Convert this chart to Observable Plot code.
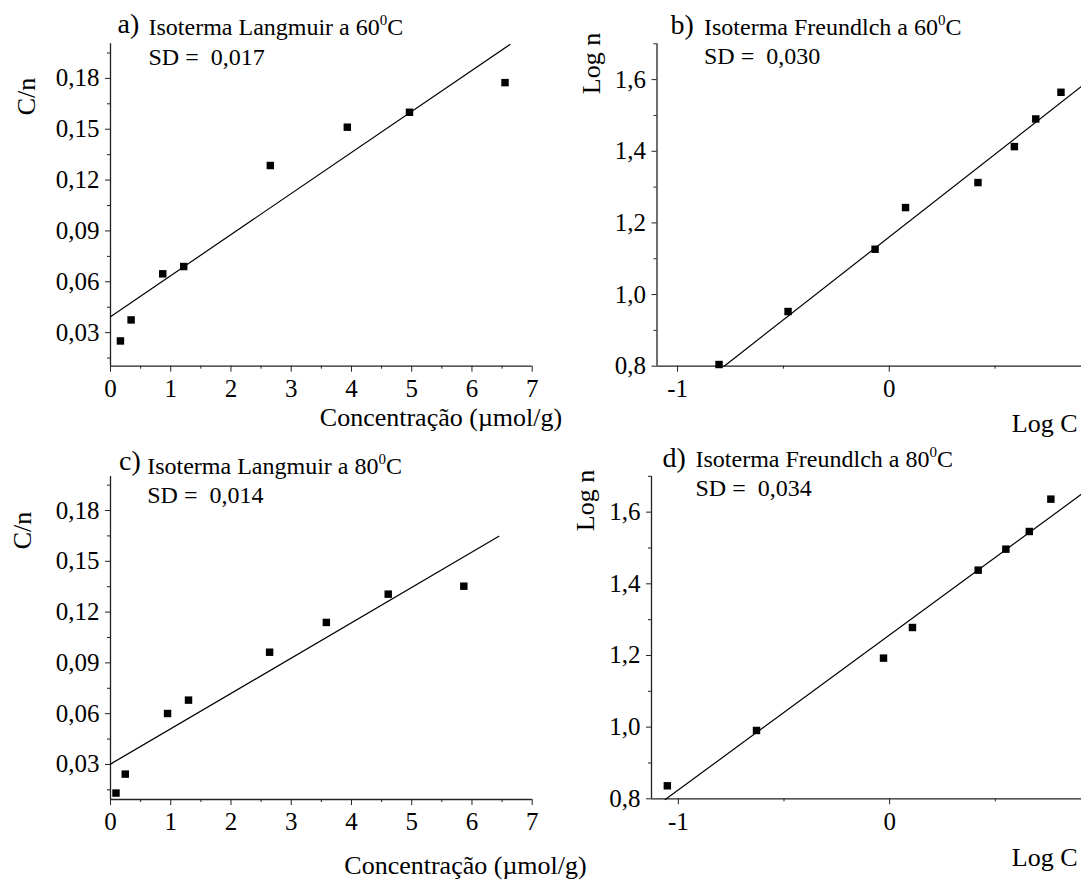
<!DOCTYPE html>
<html>
<head>
<meta charset="utf-8">
<script src="https://cdn.jsdelivr.net/npm/d3@7"></script>
<script src="https://cdn.jsdelivr.net/npm/@observablehq/plot@0.6"></script>
<style>
  html, body { margin: 0; padding: 0; background: white; }
  #wrap { position: relative; width: 1081px; height: 880px; background: white; overflow: hidden; font-family: 'Times New Roman', serif; }
  .panel { position: absolute; }
  .panel svg { overflow: visible; background: none; }
</style>
</head>
<body>
<div id="wrap"></div>
<script>
// ---------- Data ----------
// a) Langmuir 60 °C
const langmuir60C = [0.165, 0.342, 0.867, 1.215, 2.653, 3.931, 4.963, 6.549];
const langmuir60Cn = [0.0251, 0.0375, 0.0647, 0.069, 0.1286, 0.1512, 0.160, 0.1775];
const langmuir60FitX = [0, 6.63];
const langmuir60FitY = [0.0394, 0.200];

// b) Freundlich 60 °C
const freundlich60LogC = [-0.804, -0.478, -0.067, 0.077, 0.419, 0.591, 0.692, 0.811];
const freundlich60LogN = [0.8047, 0.9526, 1.1265, 1.2428, 1.3126, 1.413, 1.4902, 1.5647];
const freundlich60FitX = [-0.780, 0.908];
const freundlich60FitY = [0.800, 1.581];

// c) Langmuir 80 °C
const langmuir80C = [0.091, 0.245, 0.947, 1.295, 2.641, 3.583, 4.610, 5.865];
const langmuir80Cn = [0.0131, 0.0243, 0.0601, 0.068, 0.0963, 0.1139, 0.1306, 0.1353];
const langmuir80FitX = [0, 6.447];
const langmuir80FitY = [0.0302, 0.1648];

// d) Freundlich 80 °C
const freundlich80LogC = [-1.052, -0.630, -0.029, 0.108, 0.419, 0.550, 0.661, 0.763];
const freundlich80LogN = [0.8363, 0.9907, 1.1926, 1.2781, 1.4381, 1.4967, 1.546, 1.6363];
const freundlich80FitX = [-1.062, 0.908];
const freundlich80FitY = [0.798, 1.650];

// ---------- Ticks ----------
const langX = [0, 1, 2, 3, 4, 5, 6, 7];
const langXMinor = [0.5, 1.5, 2.5, 3.5, 4.5, 5.5, 6.5];
const langY = [0.03, 0.06, 0.09, 0.12, 0.15, 0.18];
const langYMinor = [0.015, 0.045, 0.075, 0.105, 0.135, 0.165, 0.195];
const freX = [-1, 0];
const freXMinor = [-0.5, 0.5];
const freY = [0.8, 1.0, 1.2, 1.4, 1.6];
const freYMinor = [0.9, 1.1, 1.3, 1.5, 1.7];

// ---------- Texts ----------
const titles = {
  a: ["a)", "Isoterma Langmuir a 60\u2070C", "SD = \u00A00,017"],
  b: ["b)", "Isoterma Freundlch a 60\u2070C", "SD = \u00A00,030"],
  c: ["c)", "Isoterma Langmuir a 80\u2070C", "SD = \u00A00,014"],
  d: ["d)", "Isoterma Freundlch a 80\u2070C", "SD = \u00A00,034"]
};
const langXLabel = "Concentração (µmol/g)";
const langYLabel = "C/n";
const freXLabel = "Log C";
const freYLabel = "Log n";

const comma = (digits) => (d) => d.toFixed(digits).replace(".", ",");
const FONT = "'Times New Roman', serif";

function zip(xs, ys) { return xs.map((x, i) => ({x, y: ys[i]})); }

function txt(s, o) {
  return Plot.text([s], {
    text: (d) => d,
    frameAnchor: "top-left",
    dx: o.dx, dy: o.dy,
    fontSize: o.size,
    fontFamily: FONT,
    textAnchor: o.anchor || "start",
    lineAnchor: o.line || "bottom",
    rotate: o.rotate || 0,
    fill: "black"
  });
}

// render the degree-like superscript "0" as a raised, smaller serif digit
function superscripts(svg) {
  d3.select(svg).selectAll("text").each(function () {
    const t = this.textContent;
    if (!t.includes("\u2070")) return;
    const [pre, post] = t.split("\u2070");
    const sel = d3.select(this);
    sel.text(null);
    sel.append("tspan").text(pre);
    sel.append("tspan").attr("dy", -10).attr("font-size", 15).text("0");
    sel.append("tspan").attr("dy", 10).text(post);
  });
}

function panel(cfg) {
  const marks = [
    Plot.ruleX([cfg.xDomain[0]], {stroke: "#222", strokeWidth: 1.3}),
    Plot.ruleY([cfg.yDomain[0]], {stroke: "#222", strokeWidth: 1.3}),
    Plot.axisX({ticks: cfg.xMajor, tickSize: 6, tickPadding: 7, tickFormat: cfg.xFmt, label: null, stroke: "#222", fontFamily: FONT, fontSize: 25}),
    Plot.axisX({ticks: cfg.xMinor, tickSize: 3, tickFormat: () => "", label: null, stroke: "#222"}),
    Plot.axisY({ticks: cfg.yMajor, tickSize: 5, tickPadding: 6, tickFormat: cfg.yFmt, label: null, stroke: "#222", fontFamily: FONT, fontSize: 25}),
    Plot.axisY({ticks: cfg.yMinor, tickSize: 3, tickFormat: () => "", label: null, stroke: "#222"}),
    Plot.line(zip(cfg.fitX, cfg.fitY), {x: "x", y: "y", stroke: "black", strokeWidth: 1.2}),
    Plot.dot(zip(cfg.px, cfg.py), {x: "x", y: "y", symbol: "square", r: 4.2, fill: "black", stroke: "none"}),
    ...cfg.texts.map(([s, o]) => txt(s, o))
  ];
  const p = Plot.plot({
    width: cfg.w, height: cfg.h,
    marginLeft: cfg.ml, marginRight: cfg.mr, marginTop: cfg.mt, marginBottom: cfg.mb,
    x: {domain: cfg.xDomain, label: null},
    y: {domain: cfg.yDomain, label: null},
    style: {fontFamily: FONT, fontSize: "25px", color: "black", background: "none", overflow: "visible"},
    marks
  });
  superscripts(p);
  const div = document.createElement("div");
  div.className = "panel";
  div.style.left = cfg.left + "px";
  div.style.top = cfg.top + "px";
  div.appendChild(p);
  document.getElementById("wrap").appendChild(div);
}

// a)
panel({
  left: 0, top: 0, w: 540, h: 440, ml: 110, mr: 8.3, mt: 43.3, mb: 74.3,
  xDomain: [0, 7], yDomain: [0.0102, 0.2004],
  xMajor: langX, xMinor: langXMinor, yMajor: langY, yMinor: langYMinor,
  xFmt: (d) => String(d), yFmt: comma(2),
  px: langmuir60C, py: langmuir60Cn, fitX: langmuir60FitX, fitY: langmuir60FitY,
  texts: [
    [titles.a[0], {dx: 7, dy: -11.3, size: 28}],
    [titles.a[1], {dx: 38, dy: -9.3, size: 24}],
    [titles.a[2], {dx: 38, dy: 20.7, size: 24}],
    [langYLabel, {dx: -84, dy: 52.7, size: 26, anchor: "middle", line: "middle", rotate: -90}],
    [langXLabel, {dx: 330.5, dy: 381.7, size: 26, anchor: "middle"}]
  ]
});

// b)
panel({
  left: 540, top: 0, w: 541, h: 440, ml: 116.5, mr: 0, mt: 43.3, mb: 74.3,
  xDomain: [-1.097, 0.908], yDomain: [0.8, 1.7],
  xMajor: freX, xMinor: freXMinor, yMajor: freY, yMinor: freYMinor,
  xFmt: (d) => String(d), yFmt: comma(1),
  px: freundlich60LogC, py: freundlich60LogN, fitX: freundlich60FitX, fitY: freundlich60FitY,
  texts: [
    [titles.b[0], {dx: 13.5, dy: -10.3, size: 28}],
    [titles.b[1], {dx: 47, dy: -9.3, size: 24}],
    [titles.b[2], {dx: 47, dy: 20.2, size: 24}],
    [freYLabel, {dx: -65.5, dy: 19.7, size: 26, anchor: "middle", line: "middle", rotate: -90}],
    [freXLabel, {dx: 420.5, dy: 387.7, size: 26, anchor: "end"}]
  ]
});

// c)
panel({
  left: 0, top: 440, w: 540, h: 440, ml: 110, mr: 8.3, mt: 36, mb: 81,
  xDomain: [0, 7], yDomain: [0.0093, 0.2001],
  xMajor: langX, xMinor: langXMinor, yMajor: langY, yMinor: langYMinor,
  xFmt: (d) => String(d), yFmt: comma(2),
  px: langmuir80C, py: langmuir80Cn, fitX: langmuir80FitX, fitY: langmuir80FitY,
  texts: [
    [titles.c[0], {dx: 8.5, dy: -7, size: 28}],
    [titles.c[1], {dx: 36.7, dy: -2.7, size: 24}],
    [titles.c[2], {dx: 36.7, dy: 26, size: 24}],
    [langYLabel, {dx: -87.5, dy: 54, size: 26, anchor: "middle", line: "middle", rotate: -90}],
    [langXLabel, {dx: 355, dy: 397, size: 26, anchor: "middle"}]
  ]
});

// d)
panel({
  left: 540, top: 440, w: 541, h: 440, ml: 111, mr: 0, mt: 36, mb: 81.7,
  xDomain: [-1.127, 0.908], yDomain: [0.8, 1.6995],
  xMajor: freX, xMinor: freXMinor, yMajor: freY, yMinor: freYMinor,
  xFmt: (d) => String(d), yFmt: comma(1),
  px: freundlich80LogC, py: freundlich80LogN, fitX: freundlich80FitX, fitY: freundlich80FitY,
  texts: [
    [titles.d[0], {dx: 11, dy: -10, size: 28}],
    [titles.d[1], {dx: 44, dy: -10, size: 24}],
    [titles.d[2], {dx: 44, dy: 19, size: 24}],
    [freYLabel, {dx: -66.3, dy: 24, size: 26, anchor: "middle", line: "middle", rotate: -90}],
    [freXLabel, {dx: 426, dy: 389, size: 26, anchor: "end"}]
  ]
});
</script>
</body>
</html>
